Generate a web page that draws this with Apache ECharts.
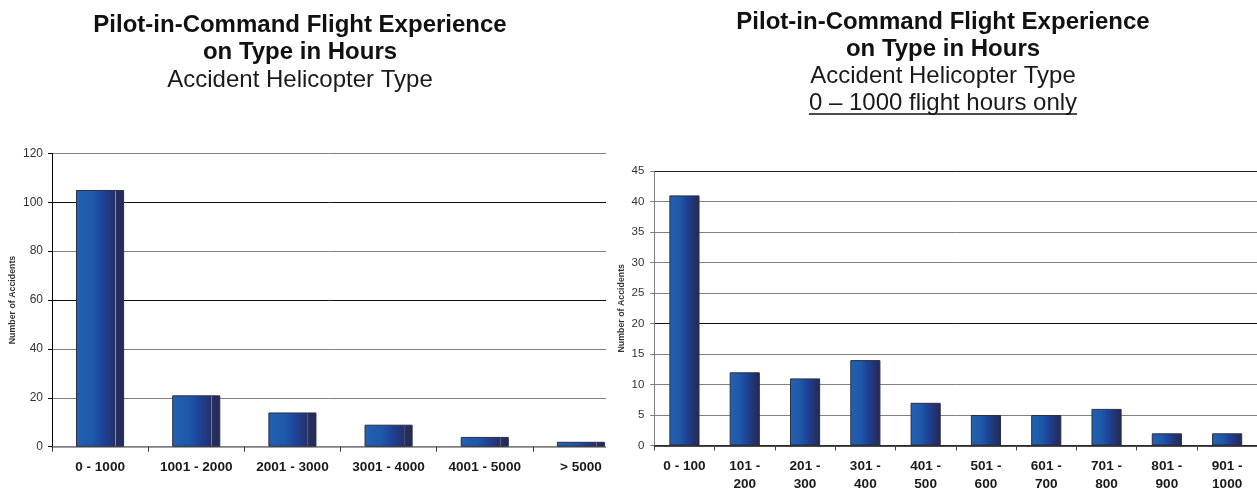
<!DOCTYPE html>
<html>
<head>
<meta charset="utf-8">
<script src="https://cdn.jsdelivr.net/npm/echarts@6/dist/echarts.min.js"></script>
<style>
  html, body { margin:0; padding:0; background:#fff; width:1257px; height:488px; overflow:hidden; }
  #left { position:absolute; left:0; top:0; width:606px; height:488px; }
  #right { position:absolute; left:606px; top:0; width:651px; height:488px; }
</style>
</head>
<body>
<div id="left"></div>
<div id="right"></div>
<script>
// ---- data ----
const leftCategories = ['0 - 1000', '1001 - 2000', '2001 - 3000', '3001 - 4000', '4001 - 5000', '> 5000'];
const leftValues = [105, 21, 14, 9, 4, 2];
const leftTicks = { min: 0, max: 120, interval: 20 };

const rightCategories = ['0 - 100', '101 -\n200', '201 -\n300', '301 -\n400', '401 -\n500', '501 -\n600', '601 -\n700', '701 -\n800', '801 -\n900', '901 -\n1000'];
const rightValues = [41, 12, 11, 14, 7, 5, 5, 6, 2, 2];
const rightTicks = { min: 0, max: 45, interval: 5 };

const leftTitleLines = ['Pilot-in-Command Flight Experience', 'on Type in Hours', 'Accident Helicopter Type'];
const rightTitleLines = ['Pilot-in-Command Flight Experience', 'on Type in Hours', 'Accident Helicopter Type', '0 \u2013 1000 flight hours only'];
const yAxisName = 'Number of Accidents';

// ---- style ----
const FONT = "'Liberation Sans', Arial, Helvetica, sans-serif";
const TITLE_SIZE = 24;

function measure(text, font) {
  const c = document.createElement('canvas').getContext('2d');
  c.font = font;
  return c.measureText(text).width;
}

function barGradient(withHighlight) {
  const stops = withHighlight ? [
    { offset: 0, color: '#2262b1' },
    { offset: 0.35, color: '#1f58a9' },
    { offset: 0.55, color: '#1d4499' },
    { offset: 0.78, color: '#23336f' },
    { offset: 0.81, color: '#24316a' },
    { offset: 0.82, color: '#8a97b8' },
    { offset: 0.835, color: '#262f62' },
    { offset: 1, color: '#222a55' }
  ] : [
    { offset: 0, color: '#2262b1' },
    { offset: 0.35, color: '#1f58a9' },
    { offset: 0.55, color: '#1d4499' },
    { offset: 0.8, color: '#23336f' },
    { offset: 1, color: '#222a55' }
  ];
  return new echarts.graphic.LinearGradient(0, 0, 1, 0, stops);
}

function titleGraphics(lines, cx, y0, step, underlineLast) {
  const els = [];
  lines.forEach((t, i) => {
    const bold = i < 2;
    const font = (bold ? 'bold ' : '') + TITLE_SIZE + 'px ' + FONT;
    const y = y0 + i * step;
    els.push({
      type: 'text', x: cx, y: y,
      style: { text: t, font: font, fill: bold ? '#111' : '#1a1a1a', align: 'center', verticalAlign: 'middle' }
    });
    if (underlineLast && i === lines.length - 1) {
      const w = measure(t, font);
      els.push({
        type: 'line',
        shape: { x1: cx - w / 2, y1: y + 11, x2: cx + w / 2, y2: y + 11 },
        style: { stroke: '#111', lineWidth: 1.4 }
      });
    }
  });
  return els;
}

// ---- left chart ----
const leftChart = echarts.init(document.getElementById('left'));
leftChart.setOption({
  animation: false,
  backgroundColor: '#fff',
  graphic: titleGraphics(leftTitleLines, 300, 25, 27.5, false),
  grid: { left: 52, top: 153.3, width: 577, height: 293.4, containLabel: false, outerBoundsMode: 'none' },
  xAxis: {
    type: 'category',
    data: leftCategories,
    axisLine: { lineStyle: { color: '#808080', width: 1.5 } },
    axisTick: { show: true, length: 5, lineStyle: { color: '#333' } },
    axisLabel: { color: '#1a1a1a', fontWeight: 'bold', fontSize: 13.6, fontFamily: FONT, margin: 14 }
  },
  yAxis: {
    type: 'value',
    min: leftTicks.min, max: leftTicks.max, interval: leftTicks.interval,
    axisLine: { show: true, lineStyle: { color: '#000' } },
    axisTick: { show: true, length: 4, lineStyle: { color: '#000' } },
    splitLine: { lineStyle: { color: ['#808080', '#808080', '#808080', '#111', '#808080', '#111', '#808080'], width: 1 } },
    axisLabel: { color: '#333', fontSize: 12, fontFamily: FONT, margin: 9 },
    name: yAxisName, nameLocation: 'middle', nameGap: 35, nameMoveOverlap: false,
    nameTextStyle: { fontSize: 8.8, fontWeight: 'bold', color: '#333', fontFamily: FONT }
  },
  series: [{
    type: 'bar',
    data: leftValues,
    barWidth: '50%',
    itemStyle: { color: barGradient(true), borderColor: '#2b2f45', borderWidth: 1 }
  }]
});

// ---- right chart ----
const rightChart = echarts.init(document.getElementById('right'));
rightChart.setOption({
  animation: false,
  backgroundColor: '#fff',
  graphic: titleGraphics(rightTitleLines, 337, 22, 27, true),
  grid: { left: 48.3, top: 171, width: 603, height: 274.5, containLabel: false, outerBoundsMode: 'none' },
  xAxis: {
    type: 'category',
    data: rightCategories,
    axisLine: { lineStyle: { color: '#111', width: 1.5 } },
    axisTick: { show: true, length: 5, lineStyle: { color: '#444' } },
    axisLabel: { color: '#1a1a1a', fontWeight: 'bold', fontSize: 13.6, fontFamily: FONT, margin: 12, lineHeight: 17.5 }
  },
  yAxis: {
    type: 'value',
    min: rightTicks.min, max: rightTicks.max, interval: rightTicks.interval,
    axisLine: { show: true, lineStyle: { color: '#808080' } },
    axisTick: { show: true, length: 4, lineStyle: { color: '#808080' } },
    splitLine: { lineStyle: { color: ['#808080', '#808080', '#808080', '#808080', '#111', '#808080', '#808080', '#808080', '#808080', '#222'], width: 1 } },
    axisLabel: { color: '#333', fontSize: 11.5, fontFamily: FONT, margin: 10 },
    name: yAxisName, nameLocation: 'middle', nameGap: 28, nameMoveOverlap: false,
    nameTextStyle: { fontSize: 8.8, fontWeight: 'bold', color: '#333', fontFamily: FONT }
  },
  series: [{
    type: 'bar',
    data: rightValues,
    barWidth: '50%',
    itemStyle: { color: barGradient(false), borderColor: '#2b2f45', borderWidth: 1 }
  }]
});
</script>
</body>
</html>
